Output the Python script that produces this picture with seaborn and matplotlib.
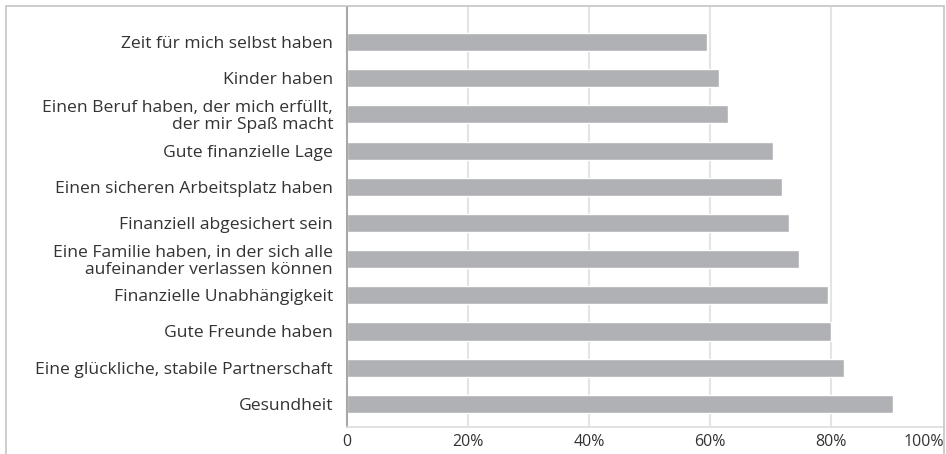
import matplotlib
matplotlib.use("Agg")
import matplotlib.pyplot as plt
import matplotlib.patches as mpatches
import pandas as pd
import seaborn as sns

# values, top to bottom
labels = [
    "Zeit für mich selbst haben",
    "Kinder haben",
    "Einen Beruf haben, der mich erfüllt,\nder mir Spaß macht",
    "Gute finanzielle Lage",
    "Einen sicheren Arbeitsplatz haben",
    "Finanziell abgesichert sein",
    "Eine Familie haben, in der sich alle\naufeinander verlassen können",
    "Finanzielle Unabhängigkeit",
    "Gute Freunde haben",
    "Eine glückliche, stabile Partnerschaft",
    "Gesundheit",
]
shares = [0.595, 0.615, 0.630, 0.704, 0.719, 0.731, 0.747, 0.795, 0.800, 0.821, 0.902]
tick_pos = [0, 0.2, 0.4, 0.6, 0.8, 0.987]
tick_labels = ["0", "20%", "40%", "60%", "80%", "100%"]

data = pd.DataFrame({"label": labels, "share": shares})

sns.set_theme(style="white")
plt.rcParams["font.family"] = ["Open Sans", "DejaVu Sans"]

fig = plt.figure(figsize=(9.46, 4.54), dpi=100)
ax = fig.add_axes([347 / 946, 1 - 427 / 454, (944 - 347) / 946, (427 - 7) / 454])

sns.barplot(data=data, x="share", y="label", orient="h", color="#b0b1b4",
            saturation=1, width=0.5, ax=ax)

ax.set_xlim(0, 0.987)
ax.set_ylim(10.64, -0.97)
ax.set_xticks(tick_pos)
ax.set_xticklabels(tick_labels, fontsize=11.5, color="#333333")
ax.get_xticklabels()[-1].set_ha("right")
ax.tick_params(axis="both", length=0, pad=5)
ax.tick_params(axis="y", labelsize=12.6, labelcolor="#333333", pad=10)
for t in ax.get_yticklabels():
    t.set_linespacing(1.05)
ax.set_xlabel("")
ax.set_ylabel("")

for x in tick_pos[1:-1]:
    ax.axvline(x, color="#e4e4e4", lw=1.5, zorder=0)
ax.set_axisbelow(True)

for side in ["top", "right"]:
    ax.spines[side].set_visible(False)
ax.spines["bottom"].set_color("#dddddd")
ax.spines["bottom"].set_linewidth(1.2)
ax.spines["left"].set_color("#a8a8a8")
ax.spines["left"].set_linewidth(1.5)

# outer chart frame, open at the bottom edge of the picture
frame = mpatches.Rectangle((6 / 946, -0.05), (944 - 6) / 946, 1.05 - 6 / 454,
                           transform=fig.transFigure, fill=False,
                           edgecolor="#c4c4c4", lw=1.2, clip_on=False)
fig.patches.append(frame)

fig.savefig("out.png", dpi=100)
